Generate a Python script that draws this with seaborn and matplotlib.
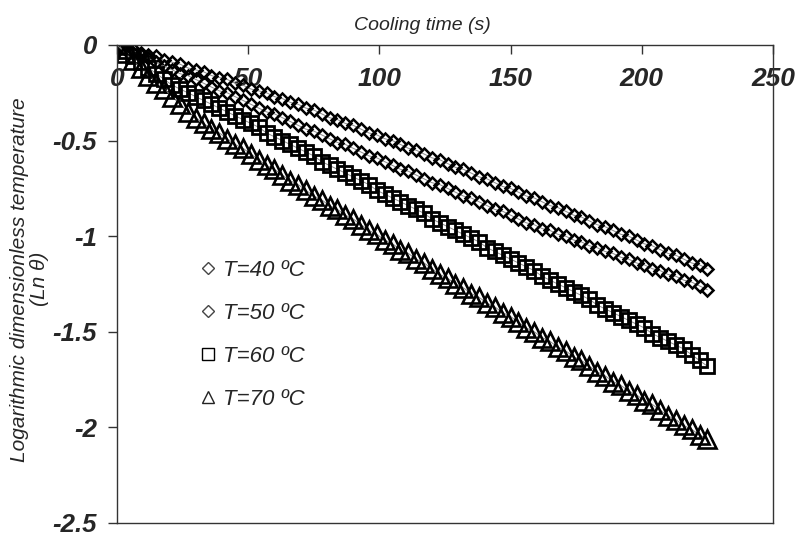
import numpy as np
import pandas as pd
import seaborn as sns
import matplotlib.pyplot as plt
from matplotlib.lines import Line2D

# Cooling time (s)
time_s = [0, 3, 6, 9, 12, 15, 18, 21, 24, 27, 30, 33, 36, 39, 42, 45, 48, 51, 54, 57,
          60, 63, 66, 69, 72, 75, 78, 81, 84, 87, 90, 93, 96, 99, 102, 105, 108, 111, 114, 117,
          120, 123, 126, 129, 132, 135, 138, 141, 144, 147, 150, 153, 156, 159, 162, 165, 168, 171, 174, 177,
          180, 183, 186, 189, 192, 195, 198, 201, 204, 207, 210, 213, 216, 219, 222, 225]

# Ln(theta) for each bath temperature
ln_theta_40 = [0.00, -0.01, -0.02, -0.04, -0.05, -0.06, -0.08, -0.09, -0.10, -0.12,
               -0.13, -0.14, -0.16, -0.17, -0.18, -0.20, -0.21, -0.23, -0.24, -0.25,
               -0.27, -0.28, -0.30, -0.31, -0.33, -0.34, -0.36, -0.38, -0.39, -0.41,
               -0.42, -0.44, -0.46, -0.47, -0.49, -0.50, -0.52, -0.54, -0.55, -0.57,
               -0.59, -0.60, -0.62, -0.64, -0.65, -0.67, -0.69, -0.70, -0.72, -0.74,
               -0.75, -0.77, -0.79, -0.80, -0.82, -0.84, -0.85, -0.87, -0.89, -0.90,
               -0.92, -0.94, -0.95, -0.97, -0.99, -1.00, -1.02, -1.04, -1.05, -1.07,
               -1.09, -1.10, -1.12, -1.14, -1.15, -1.17]
ln_theta_50 = [0.00, -0.02, -0.04, -0.05, -0.07, -0.09, -0.11, -0.13, -0.15, -0.16,
               -0.18, -0.20, -0.22, -0.24, -0.25, -0.27, -0.29, -0.31, -0.33, -0.35,
               -0.36, -0.38, -0.40, -0.42, -0.44, -0.45, -0.47, -0.49, -0.51, -0.52,
               -0.54, -0.56, -0.58, -0.59, -0.61, -0.63, -0.65, -0.66, -0.68, -0.70,
               -0.72, -0.73, -0.75, -0.77, -0.79, -0.80, -0.82, -0.84, -0.86, -0.87,
               -0.89, -0.91, -0.93, -0.94, -0.96, -0.97, -0.99, -1.00, -1.02, -1.03,
               -1.05, -1.06, -1.08, -1.09, -1.11, -1.12, -1.14, -1.15, -1.17, -1.18,
               -1.20, -1.21, -1.23, -1.24, -1.26, -1.28]
ln_theta_60 = [0.00, -0.03, -0.06, -0.09, -0.12, -0.15, -0.18, -0.21, -0.23, -0.25,
               -0.27, -0.29, -0.31, -0.33, -0.35, -0.37, -0.39, -0.41, -0.43, -0.46,
               -0.48, -0.50, -0.52, -0.54, -0.56, -0.58, -0.61, -0.63, -0.65, -0.67,
               -0.69, -0.71, -0.73, -0.76, -0.78, -0.80, -0.82, -0.84, -0.86, -0.88,
               -0.91, -0.93, -0.95, -0.97, -0.99, -1.01, -1.03, -1.06, -1.08, -1.10,
               -1.12, -1.14, -1.16, -1.18, -1.21, -1.23, -1.25, -1.27, -1.29, -1.31,
               -1.33, -1.36, -1.38, -1.40, -1.42, -1.44, -1.46, -1.48, -1.51, -1.53,
               -1.55, -1.57, -1.59, -1.62, -1.65, -1.68]
ln_theta_70 = [0.00, -0.04, -0.08, -0.12, -0.16, -0.20, -0.23, -0.27, -0.31, -0.35,
               -0.38, -0.41, -0.44, -0.46, -0.49, -0.52, -0.54, -0.57, -0.60, -0.63,
               -0.65, -0.68, -0.71, -0.73, -0.76, -0.79, -0.81, -0.84, -0.86, -0.89,
               -0.91, -0.94, -0.97, -0.99, -1.02, -1.04, -1.07, -1.09, -1.12, -1.14,
               -1.17, -1.20, -1.22, -1.25, -1.27, -1.30, -1.32, -1.35, -1.37, -1.40,
               -1.42, -1.45, -1.48, -1.50, -1.53, -1.55, -1.58, -1.60, -1.63, -1.65,
               -1.68, -1.71, -1.73, -1.76, -1.78, -1.81, -1.83, -1.86, -1.88, -1.91,
               -1.94, -1.96, -1.99, -2.01, -2.04, -2.06]

series_labels = ["T=40 \u00baC", "T=50 \u00baC", "T=60 \u00baC", "T=70 \u00baC"]
x_ticks = [0, 50, 100, 150, 200, 250]
y_ticks = [0, -0.5, -1, -1.5, -2, -2.5]
y_tick_labels = ["0", "-0.5", "-1", "-1.5", "-2", "-2.5"]

df = pd.DataFrame({
    "time": time_s * 4,
    "ln_theta": ln_theta_40 + ln_theta_50 + ln_theta_60 + ln_theta_70,
    "series": np.repeat(series_labels, len(time_s)),
})

sns.set_style("white")
plt.rcParams["font.family"] = ["Liberation Sans", "DejaVu Sans"]
plt.rcParams["axes.unicode_minus"] = False

fig = plt.figure(figsize=(7.97, 5.34), dpi=100)
ax = fig.add_axes([117 / 797, 1 - 523 / 534, 656 / 797, 478 / 534])

# marker, size, edge width for each series
styles = {
    series_labels[0]: ("D", 5.8, 1.8),
    series_labels[1]: ("D", 6.6, 1.8),
    series_labels[2]: ("s", 10, 2.0),
    series_labels[3]: ("^", 13, 1.9),
}

for label in series_labels:
    marker, ms, mew = styles[label]
    sub = df[df["series"] == label]
    sns.lineplot(data=sub, x="time", y="ln_theta", ax=ax, sort=False,
                 errorbar=None, color="#8a8a8a", linewidth=0.7,
                 marker=marker, markersize=ms, markerfacecolor="none",
                 markeredgecolor="black", markeredgewidth=mew)

ax.set_xlim(0, 250)
ax.set_ylim(-2.5, 0)

# x axis sits on the top edge, labels drawn just under it
ax.xaxis.tick_top()
ax.set_xticks(x_ticks)
ax.set_xticklabels([str(t) for t in x_ticks], fontsize=19,
                   fontweight="bold", fontstyle="italic")
ax.tick_params(axis="x", direction="in", length=6.5, width=1,
               color="#333333", pad=-33)

ax.set_yticks(y_ticks)
ax.set_yticklabels(y_tick_labels, fontsize=18.5, fontweight="bold",
                   fontstyle="italic")
ax.tick_params(axis="y", direction="out", length=6.5, width=1,
               color="#333333", pad=8, left=True)

for side in ["top", "bottom", "left", "right"]:
    ax.spines[side].set_visible(True)
    ax.spines[side].set_color("#333333")
    ax.spines[side].set_linewidth(1.0)

ax.xaxis.set_label_position("top")
ax.set_xlabel("Cooling time (s)", fontsize=14, fontstyle="italic")
ax.xaxis.set_label_coords(0.466, 1.031)

ax.set_ylabel("Logarithmic dimensionless temperature\n(Ln \u03b8)",
              fontsize=15, fontstyle="italic", multialignment="center",
              linespacing=1.1)
ax.yaxis.set_label_coords(-0.103, 0.51)

handles = [
    Line2D([], [], ls="none", marker="D", markersize=6, markerfacecolor="none",
           markeredgecolor="#444444", markeredgewidth=1.0),
    Line2D([], [], ls="none", marker="D", markersize=6, markerfacecolor="none",
           markeredgecolor="#444444", markeredgewidth=1.0),
    Line2D([], [], ls="none", marker="s", markersize=8.5, markerfacecolor="none",
           markeredgecolor="black", markeredgewidth=1.0),
    Line2D([], [], ls="none", marker="^", markersize=9, markerfacecolor="none",
           markeredgecolor="#222222", markeredgewidth=1.0),
]
leg = ax.legend(handles, series_labels, loc="upper left",
                bbox_to_anchor=(0.112, 0.573), frameon=False, borderpad=0,
                handlelength=0.6, handletextpad=0.35, labelspacing=0.98,
                prop={"family": "Liberation Sans", "style": "italic", "size": 16})

fig.savefig("out.png", dpi=100)
